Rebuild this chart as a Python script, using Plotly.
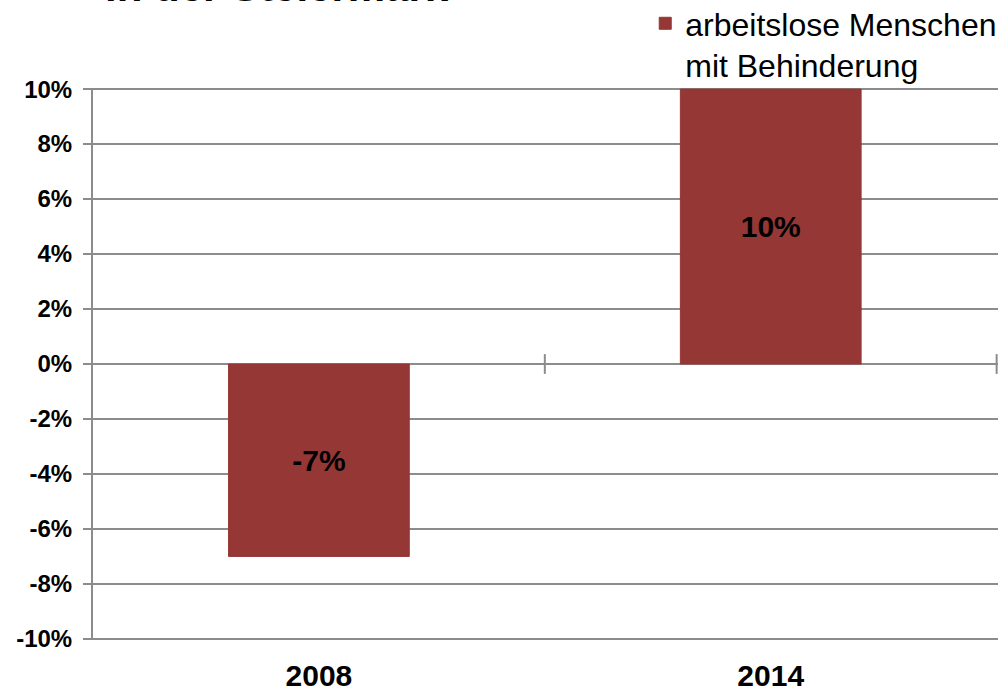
import plotly.graph_objects as go

categories = ["2008", "2014"]
values = [-0.07, 0.10]
value_labels = ["-7%", "10%"]
series_name = "arbeitslose Menschen<br>mit Behinderung"
title_text = "in der Steiermark"
tick_vals = [-0.10, -0.08, -0.06, -0.04, -0.02, 0.0, 0.02, 0.04, 0.06, 0.08, 0.10]
tick_text = ["-10%", "-8%", "-6%", "-4%", "-2%", "0%", "2%", "4%", "6%", "8%", "10%"]

BAR = "#953735"
GRID = "#8c8c8c"
FONT = "Liberation Sans, Arial, sans-serif"

fig = go.Figure()
fig.add_trace(go.Bar(
    x=categories, y=values, name=series_name,
    marker=dict(color=BAR, line=dict(color=BAR, width=1)),
    width=0.4,
    text=value_labels, textposition="inside", insidetextanchor="middle",
    textangle=0,
    textfont=dict(family=FONT, size=30, color="black", weight="bold"),
    showlegend=True,
))

# cross tick marks on the zero line at category boundaries
for xb in [0.5, 1.5]:
    fig.add_shape(type="line", xref="x", yref="y", x0=xb, x1=xb, y0=-0.0036, y1=0.0036,
                  line=dict(color=GRID, width=2), layer="below")

fig.add_annotation(text=title_text, xref="paper", yref="paper", x=0, y=1,
                   xanchor="left", yanchor="bottom", xshift=10, yshift=76,
                   showarrow=False,
                   font=dict(family=FONT, size=42, color="black", weight="bold"))

fig.update_layout(
    width=1005, height=693,
    margin=dict(l=93, r=7, t=88, b=53, autoexpand=False),
    paper_bgcolor="white", plot_bgcolor="white",
    font=dict(family=FONT, color="black"),
    legend=dict(x=0.6102, y=1.1667,
                xanchor="left", yanchor="top", valign="top",
                font=dict(family=FONT, size=32, color="black"),
                bgcolor="rgba(0,0,0,0)", itemwidth=30, tracegroupgap=0),
    xaxis=dict(range=[-0.5, 1.503], showgrid=False, zeroline=False, showline=False,
               automargin=False,
               ticks="", tickfont=dict(family=FONT, size=30, color="black", weight="bold"),
               ticklabelstandoff=15),
    yaxis=dict(range=[-0.1004, 0.1004], tickvals=tick_vals, ticktext=tick_text,
               automargin=False,
               showgrid=True, gridcolor=GRID, gridwidth=2,
               zeroline=True, zerolinecolor=GRID, zerolinewidth=2,
               showline=True, linecolor=GRID, linewidth=2,
               ticks="outside", ticklen=8, tickcolor=GRID, tickwidth=2,
               tickfont=dict(family=FONT, size=24, color="black", weight="bold"),
               ticklabelstandoff=6),
    bargap=0.6,
)

fig.write_html("out.html", config={"displayModeBar": False},
               post_script="document.body.style.margin='0';")
